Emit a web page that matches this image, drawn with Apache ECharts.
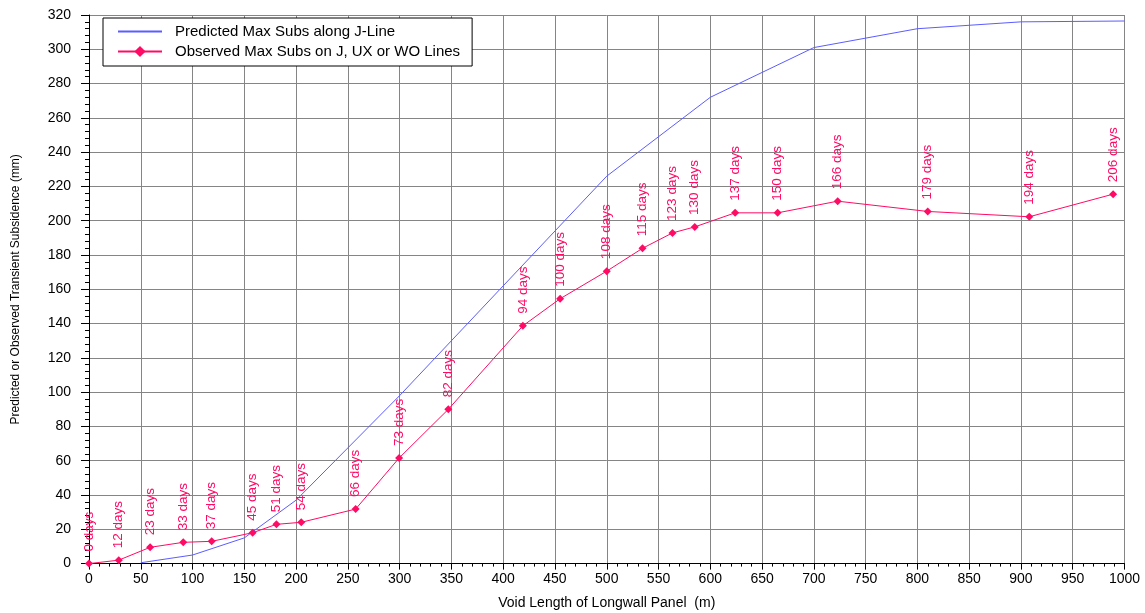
<!DOCTYPE html>
<html>
<head>
<meta charset="utf-8">
<script src="https://cdn.jsdelivr.net/npm/echarts@6/dist/echarts.min.js"></script>
<style>
html,body{margin:0;padding:0;background:#fff;}
#chart{width:1145px;height:613px;}
</style>
</head>
<body>
<div id="chart"></div>
<script>
// Predicted max subsidence along J-Line
const predX = [50, 100, 150, 200, 300, 400, 500, 600, 700, 800, 900, 1000];
const predY = [0.5, 5, 15, 37, 98, 162, 226, 272, 301, 312, 316, 316.5];

// Observed max subsidence on J, UX or WO lines
const obsX = [0, 28.7, 59, 91, 118.5, 158, 181, 205, 257.5, 299.5, 347, 419, 455, 500, 534.5, 563.5, 585, 624, 665, 723, 810, 908, 989];
const obsY = [0, 2, 9.5, 12.4, 13, 18, 22.9, 24.1, 31.8, 61.6, 90, 138.7, 154.5, 170.6, 183.9, 192.9, 196.4, 204.6, 204.6, 211.4, 205.4, 202.3, 215.5];
const obsDays = [0, 12, 23, 33, 37, 45, 51, 54, 66, 73, 82, 94, 100, 108, 115, 123, 130, 137, 150, 166, 179, 194, 206];

const FONT = '"Liberation Sans", Arial, Helvetica, sans-serif';
const BLUE = '#5c5cff';
const RED = '#ff0a64';

const chart = echarts.init(document.getElementById('chart'), null, {renderer: 'canvas'});

const option = {
  animation: false,
  backgroundColor: '#fff',
  textStyle: {fontFamily: FONT},
  grid: {left: 89, right: 20.5, top: 15, bottom: 49.4, containLabel: false, outerBoundsMode: 'none'},
  legend: {
    show: true,
    orient: 'vertical',
    left: 103,
    top: 18,
    backgroundColor: '#fff',
    borderColor: '#000',
    borderWidth: 1,
    padding: [6, 12, 7, 14],
    itemWidth: 44,
    itemHeight: 14,
    itemGap: 5,
    textStyle: {fontFamily: FONT, fontSize: 15, color: '#000', padding: [0, 0, 0, 8]},
    data: [
      {name: 'Predicted Max Subs along J-Line', itemStyle: {opacity: 0}},
      {name: 'Observed Max Subs on J, UX or WO Lines'}
    ]
  },
  xAxis: {
    type: 'value',
    min: 0, max: 1000, interval: 50,
    name: 'Void Length of Longwall Panel  (m)',
    nameLocation: 'middle',
    nameGap: 33,
    nameTextStyle: {fontFamily: FONT, fontSize: 14, color: '#000'},
    axisLine: {show: true, onZero: false, lineStyle: {color: '#000', width: 1}},
    axisTick: {show: true, inside: false, length: 6, lineStyle: {color: '#000'}},
    minorTick: {show: true, splitNumber: 5, length: 3, lineStyle: {color: '#000'}},
    axisLabel: {fontFamily: FONT, fontSize: 14, color: '#000', margin: 9, formatter: v => String(v)},
    splitLine: {show: true, lineStyle: {color: '#858585', width: 1}}
  },
  yAxis: {
    type: 'value',
    min: 0, max: 320, interval: 20,
    name: 'Predicted or Observed Transient Subsidence (mm)',
    nameLocation: 'middle',
    nameGap: 67,
    nameTextStyle: {fontFamily: FONT, fontSize: 12, color: '#000'},
    axisLine: {show: true, onZero: false, lineStyle: {color: '#000', width: 1}},
    axisTick: {show: true, inside: false, length: 8, lineStyle: {color: '#000'}},
    minorTick: {show: true, splitNumber: 5, length: 4, lineStyle: {color: '#000'}},
    axisLabel: {fontFamily: FONT, fontSize: 14, color: '#000', margin: 18, formatter: v => String(v)},
    splitLine: {show: true, lineStyle: {color: '#858585', width: 1}}
  },
  series: [
    {
      name: 'Predicted Max Subs along J-Line',
      type: 'line',
      data: predX.map((x, i) => [x, predY[i]]),
      showSymbol: false,
      symbol: 'none',
      lineStyle: {color: BLUE, width: 1},
      itemStyle: {color: BLUE},
      z: 3
    },
    {
      name: 'Observed Max Subs on J, UX or WO Lines',
      type: 'line',
      data: obsX.map((x, i) => [x, obsY[i]]),
      symbol: 'diamond',
      symbolSize: 8,
      lineStyle: {color: RED, width: 1},
      itemStyle: {color: RED},
      label: {
        show: true,
        position: 'top',
        distance: 8,
        rotate: 90,
        align: 'left',
        verticalAlign: 'middle',
        color: RED,
        fontFamily: FONT,
        fontSize: 13.5,
        formatter: p => obsDays[p.dataIndex] + ' days'
      },
      labelLayout: {hideOverlap: false},
      z: 4
    }
  ]
};

chart.setOption(option);
</script>
</body>
</html>
